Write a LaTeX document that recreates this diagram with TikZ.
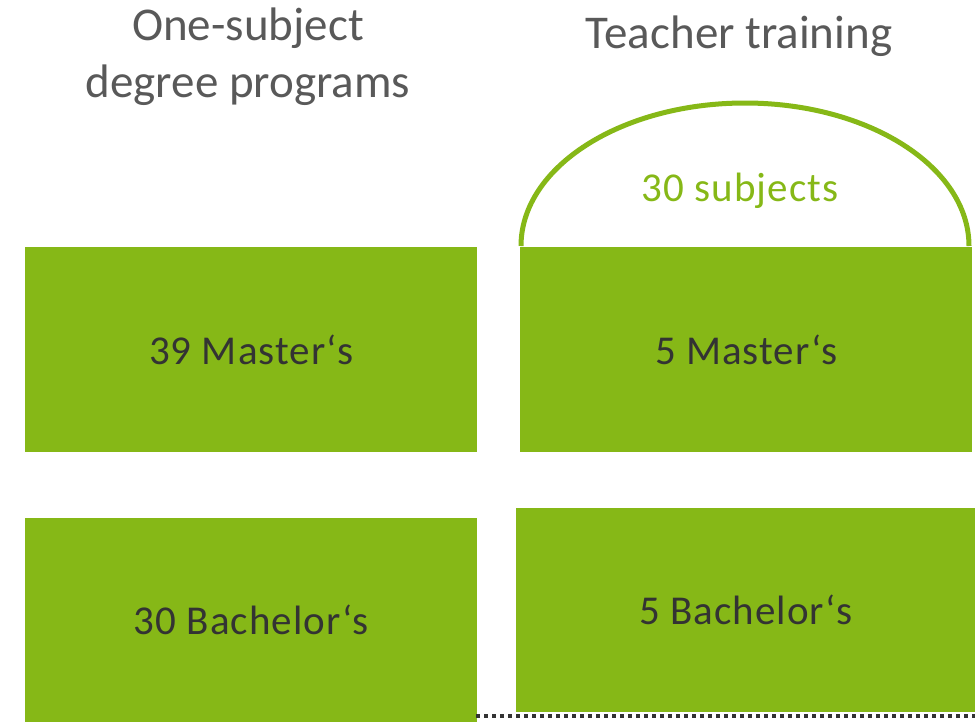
\documentclass[tikz,border=0pt]{standalone}
\usepackage{fontspec}
\setmainfont{Carlito}
\newfontfamily\boxfont[LetterSpace=2.5]{Carlito}
\usetikzlibrary{positioning}
\definecolor{uniGreen}{HTML}{86B817}
\definecolor{boxText}{HTML}{333333}
\definecolor{headText}{HTML}{595959}
\tikzstyle{prog} = [rectangle, fill=uniGreen, inner sep=0pt, anchor=north west, text=boxText, font=\boxfont\fontsize{41}{49}\selectfont]
\tikzstyle{head} = [text=headText, align=center, font=\fontsize{47}{57}\selectfont]

\begin{document}
\begin{tikzpicture}[x=1pt,y=-1pt]%
				\useasboundingbox (0,0) rectangle (975,721);%
				% headings
				\node [head] (hone) at (248,57) {One-subject\\degree programs};%
				\node [head, anchor=base] (hteach) at (739,48) {Teacher training};%
				% one-subject boxes
				\node [prog, minimum width=452pt, minimum height=205pt] (om) at (25,247) {39 Master‘s};%
				\node [prog, minimum width=452pt, minimum height=204pt] (ob) at (25,518) {30 Bachelor‘s};%
				% teacher training boxes
				\node [prog, minimum width=452pt, minimum height=205pt] (tm) at (520,247) {5 Master‘s};%
				\node [prog, minimum width=459pt, minimum height=204pt] (tb) at (516,508) {5 Bachelor‘s};%
				% subjects arc
				\draw [uniGreen, line width=5pt] ([xshift=1pt, yshift=1pt]tm.north west) arc [start angle=180, end angle=360, x radius=224, y radius=143];%
				\node [anchor=base, text=uniGreen, font=\boxfont\fontsize{41}{49}\selectfont] (subj) at (740,201) {30 subjects};%
				% dotted base line
				\coordinate (ds) at (476,716);%
				\coordinate (de) at (975,716);%
				\draw [boxText, line width=3.5pt, dash pattern=on 4pt off 4pt] (ds) -- (de);%
	\end{tikzpicture}
\end{document}
